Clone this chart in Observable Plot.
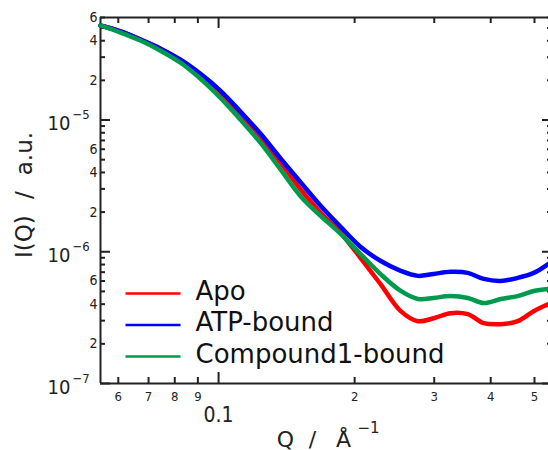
<!DOCTYPE html>
<html><head><meta charset="utf-8">
<script src="https://cdn.jsdelivr.net/npm/d3@7"></script>
<script src="https://cdn.jsdelivr.net/npm/@observablehq/plot@0.6"></script>
<style>
html,body{margin:0;padding:0;background:#fff;overflow:hidden;}
#chart svg{display:block;}
</style></head><body><div id="chart"></div>
<script>
// Q values (1/Å)
const q = [0.0548,0.0607,0.0672,0.0744,0.0824,0.0912,0.101,0.112,0.124,0.137,0.152,0.168,0.186,0.206,0.228,0.253,0.276,0.299,0.326,0.356,0.386,0.421,0.459,0.498,0.537];
// I(Q) in units of 1e-5 a.u.
const apo = [5.22,4.70,4.08,3.48,2.82,2.167,1.607,1.111,0.742,0.478,0.297,0.1985,0.1396,0.0900,0.0570,0.0354,0.0297,0.0313,0.0342,0.0336,0.0287,0.0282,0.0297,0.0354,0.0401];
const atp = [5.22,4.70,4.08,3.48,2.87,2.24,1.665,1.151,0.782,0.513,0.336,0.2244,0.1552,0.1092,0.0854,0.0716,0.0656,0.0679,0.0704,0.0691,0.0622,0.0601,0.0633,0.0691,0.0810];
const cmp1 = [5.22,4.61,4.01,3.36,2.72,2.056,1.472,1.000,0.667,0.423,0.263,0.188,0.1372,0.0965,0.0679,0.0504,0.0438,0.0446,0.0461,0.0446,0.0408,0.0438,0.0461,0.0504,0.0522];
const seriesNames = ["Apo","ATP-bound","Compound1-bound"];
const seriesColors = ["#ff0000","#0000ff","#009a4e"];

const xDomain = [0.0548, 0.548];
const yDomain = [1e-7, 6e-5];
const xMinorTicks = [0.06,0.07,0.08,0.09,0.2,0.3,0.4,0.5];
const xMinorLabels = ["6","7","8","9","2","3","4","5"];
const xMajorTicks = [0.1];
const xMajorLabels = ["0.1"];
const yMinorTicks = [2e-7,3e-7,4e-7,5e-7,6e-7,7e-7,8e-7,9e-7,2e-6,3e-6,4e-6,5e-6,6e-6,7e-6,8e-6,9e-6,2e-5,3e-5,4e-5,5e-5,6e-5];
const yLabelTicks = [2e-7,4e-7,6e-7,2e-6,4e-6,6e-6,2e-5,4e-5,6e-5];
const yLabelTexts = ["2","4","6","2","4","6","2","4","6"];
const yMajorTicks = [1e-7,1e-6,1e-5];
const yMajorBase = ["10","10","10"];
const yMajorExp = ["\u22127","\u22126","\u22125"];
const yTitle = "I(Q)\u2002\u2009/\u2002\u2009a.u.";

// layout
const W = 548, H = 450, ML = 100, MR = -4, MT = 17, MB = 67;
const PW = W - MR - ML, PH = H - MT - MB;
const ink = "#222";

const mk = (vals) => q.map((x, i) => ({q: x, I: vals[i] * 1e-5}));
const series = [mk(apo), mk(atp), mk(cmp1)];

const xs = Plot.scale({x: {type: "log", domain: xDomain, range: [ML, W - MR]}});
const ys = Plot.scale({y: {type: "log", domain: yDomain, range: [H - MB, MT]}});
const legend = seriesNames.map((name, i) => ({
  name, color: seriesColors[i],
  x1: xs.invert(125), x2: xs.invert(180), xt: xs.invert(195),
  y: ys.invert(293 + i * 31.5)
}));

const chart = Plot.plot({
  width: W, height: H, marginLeft: ML, marginRight: MR, marginTop: MT, marginBottom: MB,
  x: {type: "log", domain: xDomain, axis: null},
  y: {type: "log", domain: yDomain, axis: null},
  style: {fontFamily: "DejaVu Sans", background: "white", color: ink},
  marks: [
    // frame lines
    Plot.ruleX([xDomain[0]], {stroke: ink, strokeWidth: 2}),
    Plot.ruleY([yDomain[0]], {stroke: ink, strokeWidth: 2}),
    Plot.ruleY([yDomain[1]], {stroke: ink, strokeWidth: 2}),
    // x ticks bottom & top
    Plot.tickX(xMinorTicks, {x: d => d, insetTop: PH - 6, stroke: ink, strokeWidth: 2}),
    Plot.tickX(xMinorTicks, {x: d => d, insetBottom: PH - 6, stroke: ink, strokeWidth: 2}),
    Plot.tickX(xMajorTicks, {x: d => d, insetTop: PH - 11, stroke: ink, strokeWidth: 2}),
    Plot.tickX(xMajorTicks, {x: d => d, insetBottom: PH - 11, stroke: ink, strokeWidth: 2}),
    // y ticks left & right
    Plot.tickY(yMinorTicks, {y: d => d, insetRight: PW - 5, stroke: ink, strokeWidth: 2}),
    Plot.tickY(yMinorTicks, {y: d => d, insetLeft: PW - 5, stroke: ink, strokeWidth: 2}),
    Plot.tickY(yMajorTicks, {y: d => d, insetRight: PW - 10, stroke: ink, strokeWidth: 2}),
    Plot.tickY(yMajorTicks, {y: d => d, insetLeft: PW - 10, stroke: ink, strokeWidth: 2}),
    // tick labels
    Plot.text(xMinorTicks, {x: d => d, text: (d, i) => xMinorLabels[i], frameAnchor: "bottom", lineAnchor: "top", dy: 8, fontSize: 13, fontFamily: "DejaVu Sans Condensed", fill: ink}),
    Plot.text(xMajorTicks, {x: d => d, text: (d, i) => xMajorLabels[i], frameAnchor: "bottom", lineAnchor: "top", dy: 24, fontSize: 21, fontFamily: "DejaVu Sans Condensed", fill: ink}),
    Plot.text(yLabelTicks, {y: d => d, text: (d, i) => yLabelTexts[i], frameAnchor: "left", textAnchor: "end", dx: -3, fontSize: 14, fontFamily: "DejaVu Sans Condensed", fill: ink}),
    Plot.text(yMajorTicks, {y: d => d, text: (d, i) => yMajorBase[i], frameAnchor: "left", textAnchor: "end", dx: -30, dy: 4, fontSize: 20, fontFamily: "DejaVu Sans Condensed", fill: ink}),
    Plot.text(yMajorTicks, {y: d => d, text: (d, i) => yMajorExp[i], frameAnchor: "left", textAnchor: "start", dx: -28, dy: -1, lineAnchor: "bottom", fontSize: 13, fontFamily: "DejaVu Sans Condensed", fill: ink}),
    // axis titles
    Plot.text(["Q"], {frameAnchor: "bottom", textAnchor: "middle", dx: -41, dy: 63, lineAnchor: "bottom", fontSize: 22, fill: ink}),
    Plot.text(["/"], {frameAnchor: "bottom", textAnchor: "middle", dx: -14, dy: 63, lineAnchor: "bottom", fontSize: 22, fill: ink}),
    Plot.text(["Å"], {frameAnchor: "bottom", textAnchor: "middle", dx: 17, dy: 63, lineAnchor: "bottom", fontSize: 22, fill: ink}),
    Plot.text(["\u22121"], {frameAnchor: "bottom", dx: 31, dy: 49, textAnchor: "start", lineAnchor: "bottom", fontSize: 15, fill: ink}),
    Plot.text([yTitle], {frameAnchor: "left", textAnchor: "middle", rotate: -90, dx: -69, dy: -5.5, lineAnchor: "bottom", fontSize: 23, fill: ink}),
    // legend
    Plot.link(legend, {x1: "x1", x2: "x2", y1: "y", y2: "y", stroke: "color", strokeWidth: 2.5}),
    Plot.text(legend, {x: "xt", y: "y", text: "name", textAnchor: "start", lineAnchor: "bottom", dy: 6, fontSize: 26, fill: "#111"}),
    // data
    Plot.line(series[0], {x: "q", y: "I", stroke: seriesColors[0], strokeWidth: 4.5, curve: "catmull-rom"}),
    Plot.line(series[1], {x: "q", y: "I", stroke: seriesColors[1], strokeWidth: 4.5, curve: "catmull-rom"}),
    Plot.line(series[2], {x: "q", y: "I", stroke: seriesColors[2], strokeWidth: 4.5, curve: "catmull-rom"})
  ]
});
document.getElementById("chart").appendChild(chart);
</script></body></html>
